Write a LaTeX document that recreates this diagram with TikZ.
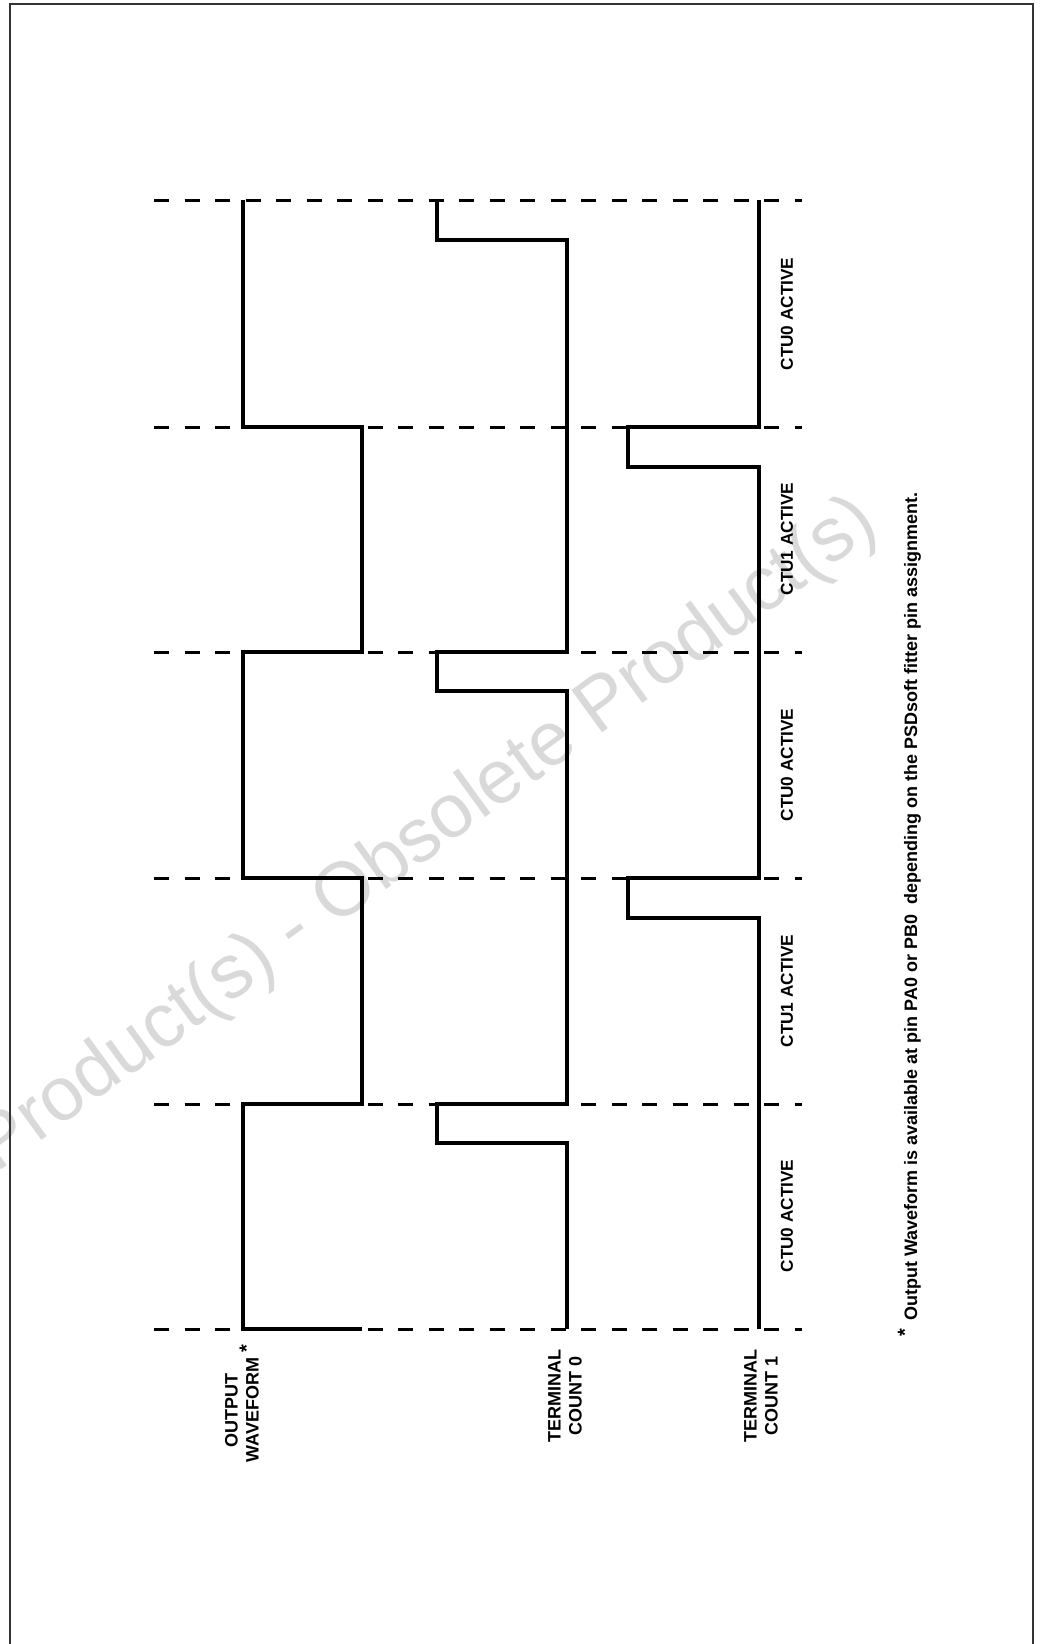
\documentclass[tikz,border=0pt]{standalone}
\usepackage{fontspec}
\setmainfont{Liberation Sans}
\begin{document}
\begin{tikzpicture}[x=0.5pt,y=-0.5pt,
  sig/.style={line width=2pt, line join=miter},
  tgrid/.style={line width=1.5pt, dash pattern=on 7.5pt off 7.75pt},
  lbl/.style={font=\bfseries\fontsize{9}{10.5}\selectfont, rotate=90, align=center, inner sep=0pt},
  ctu/.style={font=\bfseries\fontsize{8.6}{10}\selectfont, rotate=90, inner sep=0pt}]
\useasboundingbox (0,0) rectangle (1041,1644);
\def\Ta{1329}\def\Tb{1104}\def\Tc{878}\def\Td{652}\def\Te{427}\def\Tf{200}
% watermark
\begin{scope}
\clip (0,0) rectangle (1041,1644);
\node[rotate=36, text=black!15, font=\fontsize{38}{46}\selectfont, inner sep=0pt] (wm) at (427,836) {Product(s) - Obsolete Product(s)};
\end{scope}
% frame
\draw[black!80, line width=1pt] (10,1644) -- (10,4) -- (1033,4) -- (1033,1644);
% time marks
\foreach \t in {\Ta,\Tb,\Tc,\Td,\Te,\Tf}
  \draw[tgrid] (154,\t) -- (802,\t);
% output waveform
\draw[sig] (362,\Ta) -- (243,\Ta) -- (243,\Tb) -- (362,\Tb) -- (362,\Tc) -- (243,\Tc)
  -- (243,\Td) -- (362,\Td) -- (362,\Te) -- (243,\Te) -- (243,\Tf);
% terminal count 0
\draw[sig] (567,\Ta) -- (567,\Tb+39) -- (437,\Tb+39) -- (437,\Tb) -- (567,\Tb)
  -- (567,\Td+39) -- (437,\Td+39) -- (437,\Td) -- (567,\Td)
  -- (567,\Tf+40) -- (437,\Tf+40) -- (437,\Tf);
% terminal count 1
\draw[sig] (759,\Ta) -- (759,\Tc+40) -- (628,\Tc+40) -- (628,\Tc) -- (759,\Tc)
  -- (759,\Te+40) -- (628,\Te+40) -- (628,\Te) -- (759,\Te) -- (759,\Tf);
% phase labels
\node[ctu] (p1) at (787,1216) {CTU0 ACTIVE};
\node[ctu] (p2) at (787,991) {CTU1 ACTIVE};
\node[ctu] (p3) at (787,765) {CTU0 ACTIVE};
\node[ctu] (p4) at (787,539) {CTU1 ACTIVE};
\node[ctu] (p5) at (787,314) {CTU0 ACTIVE};
% signal labels
\node[lbl] (ow) at (242,1410) {OUTPUT\\WAVEFORM\rlap{\hspace{2.5pt}\raisebox{0.3em}{\fontsize{10}{10}\selectfont *}}};
\node[lbl] (tc0) at (565,1396) {TERMINAL\\COUNT 0};
\node[lbl] (tc1) at (761,1396) {TERMINAL\\COUNT 1};
% footnote
\node[rotate=90, anchor=base west, font=\bfseries\fontsize{9}{11}\selectfont, inner sep=0pt] (fn) at (917,1337)
  {\raisebox{0.3em}{\fontsize{10}{10}\selectfont *}\hspace{4pt}Output Waveform is available at pin PA0 or PB0\ \ depending on the PSDsoft fitter pin assignment.};
\end{tikzpicture}
\end{document}
